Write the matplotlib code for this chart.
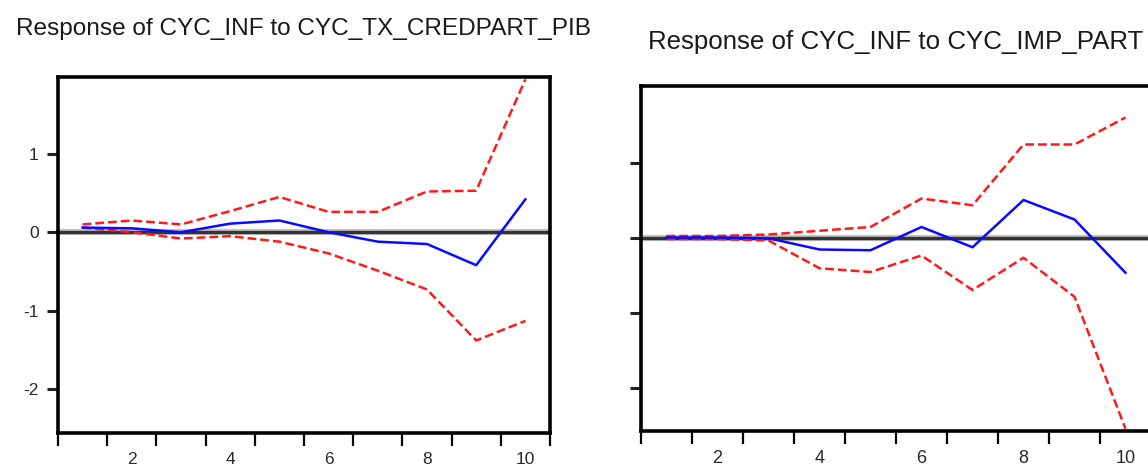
"""Impulse responses of CYC_INF (EViews-style two panel figure)."""

import matplotlib.pyplot as plt

periods = [1, 2, 3, 4, 5, 6, 7, 8, 9, 10]

# Response of CYC_INF to CYC_TX_CREDPART_PIB
credpart_resp = [0.06, 0.05, 0.00, 0.11, 0.15, 0.00, -0.12, -0.15, -0.42, 0.42]
credpart_upper = [0.10, 0.15, 0.10, 0.27, 0.45, 0.26, 0.26, 0.52, 0.53, 1.95]
credpart_lower = [0.06, 0.00, -0.08, -0.05, -0.12, -0.27, -0.49, -0.73, -1.38, -1.13]

# Response of CYC_INF to CYC_IMP_PART
imp_resp = [0.00, 0.00, -0.01, -0.16, -0.17, 0.14, -0.13, 0.50, 0.24, -0.47]
imp_upper = [0.02, 0.02, 0.04, 0.09, 0.14, 0.52, 0.43, 1.24, 1.24, 1.60]
imp_lower = [-0.02, -0.02, -0.04, -0.41, -0.46, -0.24, -0.70, -0.27, -0.79, -2.55]

titles = [
    "Response of CYC_INF to CYC_TX_CREDPART_PIB",
    "Response of CYC_INF to CYC_IMP_PART",
]
x_labels = [2, 4, 6, 8, 10]
y_ticks = [1, 0, -1, -2]

plt.rcParams["font.family"] = ["Liberation Sans", "DejaVu Sans"]

W, H = 1148, 470
fig = plt.figure(figsize=(W / 100, H / 100), dpi=100)


def px_axes(left, top, right, bottom):
    return fig.add_axes([left / W, 1 - bottom / H, (right - left) / W, (bottom - top) / H])


def draw_panel(ax, resp, upper, lower, ylim, show_ylabels, labelsize):
    # zero line: dark core with a faint grey halo, as in the EViews export
    ax.axhline(0, color="#c4c4c4", lw=4.5, zorder=1)
    ax.axhline(0, color="#333333", lw=2.4, zorder=1)
    for band in (upper, lower):
        ax.plot(periods, band, color="#ff1a1a", lw=1.8, dashes=(3.5, 1.6), zorder=3)
    ax.plot(periods, resp, color="#0a0aff", lw=1.8, zorder=4)

    ax.set_xlim(0.5, 10.5)
    ax.set_ylim(*ylim)

    ax.set_xticks([p - 0.5 for p in periods] + [10.5])
    ax.set_xticklabels([])
    ax.set_xticks(x_labels, minor=True)
    ax.set_xticklabels([str(v) for v in x_labels], minor=True)
    ax.tick_params(axis="x", which="major", direction="out", length=9,
                   width=1.6, color="black")
    ax.tick_params(axis="x", which="minor", length=0, pad=14,
                   labelsize=labelsize, labelcolor="#2a2a2a")

    ax.set_yticks(y_ticks)
    ax.set_yticklabels([str(v) for v in y_ticks] if show_ylabels else [])
    ax.tick_params(axis="y", direction="out", length=8, width=2.2,
                   color="#222222", labelsize=labelsize, labelcolor="#2a2a2a", pad=6)

    for side in ("left", "right", "top", "bottom"):
        ax.spines[side].set_linewidth(2.6)
        ax.spines[side].set_color("black")


ax1 = px_axes(58, 77, 550, 433)
draw_panel(ax1, credpart_resp, credpart_upper, credpart_lower, (-2.56, 1.98), True, 12.5)
fig.text(303 / W, 1 - 29 / H, titles[0], ha="center", va="center",
         fontsize=17.6, color="#1a1a1a")

ax2 = px_axes(641, 86, 1151, 431)
draw_panel(ax2, imp_resp, imp_upper, imp_lower, (-2.58, 2.02), False, 13)
fig.text(896 / W, 1 - 42 / H, titles[1], ha="center", va="center",
         fontsize=18.6, color="#1a1a1a")

fig.savefig("out.png", dpi=100)
